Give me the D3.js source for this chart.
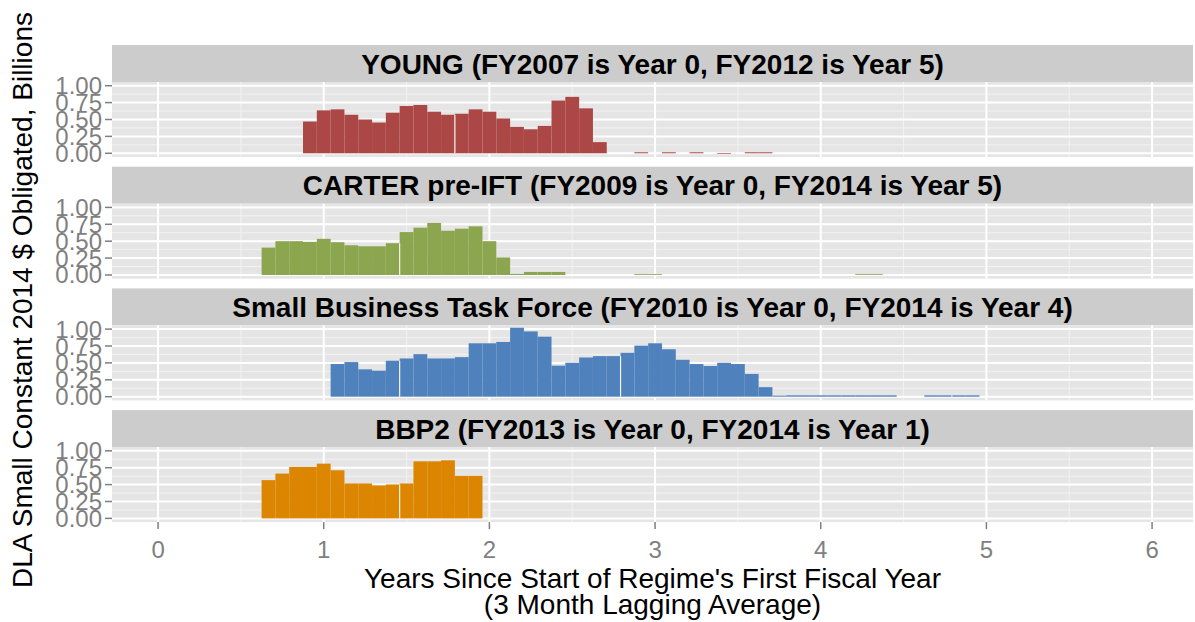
<!DOCTYPE html>
<html>
<head>
<meta charset="utf-8">
<script src="https://cdn.jsdelivr.net/npm/d3@7"></script>
<style>
    body { margin: 0; background: #fff; }
    text { font-family: "Liberation Sans", Arial, sans-serif; }
</style>
</head>
<body>
<div class="container"></div>
<script>
// monthly values (billions), month index = months since start of year 0
const titles = [
    'YOUNG (FY2007 is Year 0, FY2012 is Year 5)',
    'CARTER pre-IFT (FY2009 is Year 0, FY2014 is Year 5)',
    'Small Business Task Force (FY2010 is Year 0, FY2014 is Year 4)',
    'BBP2 (FY2013 is Year 0, FY2014 is Year 1)'
];

const youngStart = 11;
const youngValues = [0.47, 0.635, 0.65, 0.57, 0.50, 0.455, 0.60, 0.70, 0.715, 0.615, 0.57,
    0.585, 0.65, 0.615, 0.515, 0.39, 0.355, 0.405, 0.78, 0.835, 0.665, 0.165,
    0, 0, 0.015, 0, 0.015, 0, 0.015, 0, -0.01, 0, 0.015, 0.015];
const youngBreaks = [22];

const carterStart = 8;
const carterValues = [0.405, 0.50, 0.50, 0.49, 0.535, 0.485, 0.44, 0.425, 0.425, 0.47,
    0.635, 0.70, 0.77, 0.655, 0.685, 0.72, 0.50, 0.26, 0.015, 0.045, 0.045, 0.045,
    0, 0, 0, 0, 0, 0.012, 0.012,
    0, 0, 0, 0, 0, 0, 0, 0, 0, 0, 0, 0, 0, 0, 0.012, 0.012];
const carterBreaks = [18];

const sbtfStart = 13;
const sbtfValues = [0.483, 0.512, 0.405, 0.385, 0.532,
    0.566, 0.629, 0.566, 0.566, 0.585, 0.79, 0.79, 0.81, 1.02, 0.966, 0.888,
    0.459, 0.502, 0.58, 0.60, 0.60,
    0.649, 0.756, 0.79, 0.702, 0.546, 0.483, 0.454, 0.502, 0.483, 0.337, 0.141, 0.015,
    0.02, 0.02, 0.02, 0.02, 0.02, 0.02, 0.02, 0.02,
    0, 0,
    0.02, 0.02, 0.02, 0.02];
const sbtfBreaks = [18, 34, 58];

const bbpStart = 8;
const bbpValues = [0.566, 0.663, 0.761, 0.761, 0.81, 0.712, 0.517, 0.517, 0.488, 0.502,
    0.517, 0.844, 0.844, 0.859, 0.629, 0.629];
const bbpBreaks = [18];

const xTicks = [0, 1, 2, 3, 4, 5, 6];
const yTicks = [0, 0.25, 0.5, 0.75, 1];
const yTickLabels = ['0.00', '0.25', '0.50', '0.75', '1.00'];

const colors = ['#ab4745', '#8ba64e', '#4f81bd', '#db8500'];

let width = 1195;
let height = 622;

const svg = d3.select('.container')
    .append('svg')
    .attr('width', width)
    .attr('height', height);

let plotLeft = 112;
let plotRight = 1193;
let plotTop = 45;
let stripH = 37;
let panelH = 75;
let gap = 9.7;

let x = d3.scaleLinear().domain([-0.278, 6.247]).range([plotLeft, plotRight]);

let panels = [
    {start: youngStart, values: youngValues, breaks: youngBreaks},
    {start: carterStart, values: carterValues, breaks: carterBreaks},
    {start: sbtfStart, values: sbtfValues, breaks: sbtfBreaks},
    {start: bbpStart, values: bbpValues, breaks: bbpBreaks}
];

panels.forEach((p, i) => {
    p.title = titles[i];
    p.color = colors[i];
    drawPanel(p, plotTop + i * (stripH + panelH + gap), i === panels.length - 1);
});

function drawPanel(p, y0, last) {
    let g = svg.append('g');
    let py = y0 + stripH;
    let y = d3.scaleLinear().domain([-0.055, 1.055]).range([py + panelH, py]);

    //strip
    g.append('rect')
        .attr('x', plotLeft).attr('y', y0)
        .attr('width', plotRight - plotLeft).attr('height', stripH)
        .attr('fill', '#cccccc');
    g.append('text')
        .attr('x', (plotLeft + plotRight) / 2)
        .attr('y', y0 + stripH / 2 + 10)
        .attr('text-anchor', 'middle')
        .style('font-size', '28px')
        .style('font-weight', 'bold')
        .text(p.title);

    //panel background + grid
    g.append('rect')
        .attr('x', plotLeft).attr('y', py)
        .attr('width', plotRight - plotLeft).attr('height', panelH)
        .attr('fill', '#e5e5e5');

    let minorX = d3.range(0.5, 6, 1);
    let minorY = [0.125, 0.375, 0.625, 0.875];
    g.selectAll('.minx').data(minorX).enter().append('line')
        .attr('x1', d => x(d)).attr('x2', d => x(d))
        .attr('y1', py).attr('y2', py + panelH)
        .attr('stroke', '#f2f2f2').attr('stroke-width', 1);
    g.selectAll('.miny').data(minorY).enter().append('line')
        .attr('x1', plotLeft).attr('x2', plotRight)
        .attr('y1', d => y(d)).attr('y2', d => y(d))
        .attr('stroke', '#f2f2f2').attr('stroke-width', 1);
    g.selectAll('.majx').data(xTicks).enter().append('line')
        .attr('x1', d => x(d)).attr('x2', d => x(d))
        .attr('y1', py).attr('y2', py + panelH)
        .attr('stroke', '#ffffff').attr('stroke-width', 2);
    g.selectAll('.majy').data(yTicks).enter().append('line')
        .attr('x1', plotLeft).attr('x2', plotRight)
        .attr('y1', d => y(d)).attr('y2', d => y(d))
        .attr('stroke', '#ffffff').attr('stroke-width', 2);

    //bars
    let bars = p.values.map((v, i) => ({m: p.start + i, v: v})).filter(d => d.v !== 0);
    g.selectAll('.bar').data(bars).enter().append('rect')
        .attr('x', d => x((d.m - 0.5) / 12))
        .attr('width', d => x((d.m + 0.5) / 12) - x((d.m - 0.5) / 12))
        .attr('y', d => y(Math.max(d.v, 0)))
        .attr('height', d => Math.abs(y(d.v) - y(0)))
        .attr('fill', p.color);

    //small gaps between some months
    g.selectAll('.brk').data(p.breaks).enter().append('line')
        .attr('x1', d => x((d - 0.5) / 12)).attr('x2', d => x((d - 0.5) / 12))
        .attr('y1', y(0))
        .attr('y2', d => {
            let a = p.values[d - 1 - p.start] || 0;
            let b = p.values[d - p.start] || 0;
            return y(Math.min(a, b));
        })
        .attr('stroke', '#f4f4f4').attr('stroke-width', 1.2);

    //y axis
    g.selectAll('.yt').data(yTicks).enter().append('line')
        .attr('x1', plotLeft - 7).attr('x2', plotLeft)
        .attr('y1', d => y(d)).attr('y2', d => y(d))
        .attr('stroke', '#7f7f7f').attr('stroke-width', 1.5);
    g.selectAll('.yl').data(yTicks).enter().append('text')
        .attr('x', plotLeft - 10)
        .attr('y', d => y(d) + 8.5)
        .attr('text-anchor', 'end')
        .attr('fill', '#7f7f7f')
        .style('font-size', '24px')
        .text((d, i) => yTickLabels[i]);

    if (last) {
        g.selectAll('.xt').data(xTicks).enter().append('line')
            .attr('x1', d => x(d)).attr('x2', d => x(d))
            .attr('y1', py + panelH).attr('y2', py + panelH + 7)
            .attr('stroke', '#7f7f7f').attr('stroke-width', 1.5);
        g.selectAll('.xl').data(xTicks).enter().append('text')
            .attr('x', d => x(d))
            .attr('y', py + panelH + 36)
            .attr('text-anchor', 'middle')
            .attr('fill', '#7f7f7f')
            .style('font-size', '24px')
            .text(d => d);
    }
}

//axis titles
svg.append('text')
    .attr('x', (plotLeft + plotRight) / 2)
    .attr('y', 588)
    .attr('text-anchor', 'middle')
    .style('font-size', '28px')
    .text("Years Since Start of Regime's First Fiscal Year");
svg.append('text')
    .attr('x', (plotLeft + plotRight) / 2)
    .attr('y', 614)
    .attr('text-anchor', 'middle')
    .style('font-size', '28px')
    .text('(3 Month Lagging Average)');
svg.append('text')
    .attr('transform', 'translate(32,' + 300 + ') rotate(-90)')
    .attr('text-anchor', 'middle')
    .style('font-size', '28px')
    .text('DLA Small Constant 2014 $ Obligated, Billions');
</script>
</body>
</html>
